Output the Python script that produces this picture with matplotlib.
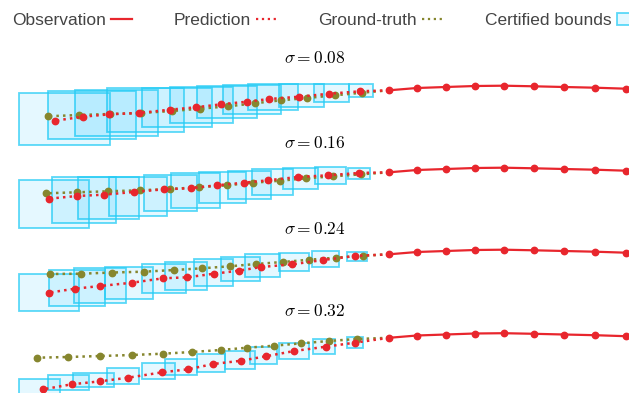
import matplotlib
matplotlib.use("Agg")
import matplotlib.pyplot as plt
from matplotlib.lines import Line2D
from matplotlib.patches import Rectangle, Patch

plt.rcParams['mathtext.fontset'] = 'cm'
plt.rcParams['font.family'] = ['Liberation Sans', 'DejaVu Sans']

sigmas = [0.08, 0.16, 0.24, 0.32]

# observed track (oldest first), shared by every noise level
obs_x = [62.6, 59.5, 56.4, 53.4, 50.4, 47.5, 44.6, 41.7, 38.9]
obs_y = [0.33, 0.43, 0.50, 0.57, 0.63, 0.60, 0.50, 0.40, 0.17]

# predicted future positions, nearest step first
pred_x = [
    [36.0, 32.93, 29.93, 26.93, 24.67, 22.13, 19.57, 16.97, 13.9, 10.93, 8.3, 5.5],
    [35.87, 32.8, 29.8, 26.8, 24.4, 21.67, 19.07, 16.4, 13.37, 10.37, 7.7, 4.87],
    [35.47, 32.33, 29.23, 26.13, 23.87, 21.4, 18.73, 16.3, 13.2, 10.03, 7.5, 4.87],
    [35.47, 32.57, 29.43, 26.57, 24.13, 21.33, 18.8, 16.23, 12.8, 10.03, 7.17, 4.33],
]
pred_y = [
    [0.07, -0.17, -0.47, -0.70, -0.97, -1.23, -1.53, -1.77, -2.10, -2.23, -2.47, -2.87],
    [0.1, -0.13, -0.3, -0.63, -0.87, -1.13, -1.42, -1.53, -1.8, -2.07, -2.2, -2.47],
    [0.0, -0.4, -0.83, -1.1, -1.47, -1.77, -2.13, -2.23, -2.67, -3.0, -3.27, -3.67],
    [-0.32, -0.72, -1.15, -1.68, -2.12, -2.45, -2.98, -3.28, -3.82, -4.18, -4.48, -4.98],
]

# ground-truth future positions
gt_x = [
    [36.2, 33.47, 30.7, 28.1, 25.47, 22.83, 20.0, 17.2, 14.13, 11.0, 7.93, 4.77],
    [36.1, 33.33, 30.6, 28.0, 25.33, 22.7, 19.9, 17.03, 13.97, 10.83, 7.7, 4.57],
    [36.33, 33.6, 30.93, 28.27, 25.6, 22.97, 20.2, 17.4, 14.37, 11.23, 8.13, 5.03],
    [35.7, 32.9, 30.13, 27.43, 24.73, 22.07, 19.2, 16.3, 13.2, 10.03, 6.83, 3.67],
]
gt_y = [
    [-0.07, -0.33, -0.6, -0.83, -1.13, -1.43, -1.67, -1.9, -2.1, -2.2, -2.3, -2.43],
    [-0.03, -0.23, -0.43, -0.67, -0.87, -1.13, -1.32, -1.5, -1.63, -1.73, -1.83, -1.93],
    [0.03, -0.17, -0.37, -0.6, -0.8, -1.03, -1.23, -1.4, -1.57, -1.65, -1.77, -1.8],
    [0.05, -0.15, -0.38, -0.62, -0.82, -1.05, -1.25, -1.42, -1.55, -1.65, -1.75, -1.82],
]

# certified bounds for each predicted step
bound_xlo = [
    [34.93, 31.43, 27.87, 24.83, 22.33, 19.67, 16.97, 14.17, 10.73, 7.53, 4.8, 1.87],
    [34.77, 31.5, 28.33, 25.23, 22.83, 19.93, 17.07, 14.43, 10.87, 7.83, 5.17, 1.9],
    [34.67, 31.17, 27.87, 24.53, 22.1, 19.43, 16.47, 14.17, 10.53, 7.43, 4.93, 1.9],
    [34.67, 31.33, 27.87, 25.0, 22.53, 19.67, 16.53, 14.17, 10.73, 7.33, 4.83, 1.9],
]
bound_xhi = [
    [37.27, 34.93, 32.4, 29.83, 28.13, 25.67, 23.33, 21.17, 18.37, 15.77, 13.57, 11.03],
    [37.0, 34.57, 31.8, 29.27, 27.1, 24.57, 22.0, 19.67, 16.67, 13.87, 11.6, 8.93],
    [36.67, 33.87, 30.93, 28.03, 25.97, 23.33, 20.73, 18.6, 15.33, 12.63, 10.53, 7.87],
    [36.33, 33.5, 30.87, 27.67, 25.47, 22.53, 19.73, 17.47, 13.93, 11.43, 8.87, 6.03],
]
bound_ylo = [
    [-0.53, -0.97, -1.47, -1.83, -2.2, -2.6, -3.1, -3.53, -4.0, -4.37, -4.73, -5.27],
    [-0.53, -1.03, -1.53, -2.1, -2.53, -2.93, -3.43, -3.73, -4.2, -4.53, -4.93, -5.37],
    [-0.53, -1.07, -1.53, -2.07, -2.47, -2.97, -3.4, -3.73, -4.33, -4.73, -5.03, -5.53],
    [-0.85, -1.45, -1.98, -2.48, -2.92, -3.25, -3.58, -3.98, -4.45, -4.72, -5.08, -5.65],
]
bound_yhi = [
    [0.77, 0.77, 0.77, 0.77, 0.7, 0.6, 0.5, 0.37, 0.4, 0.17, 0.13, -0.1],
    [0.57, 0.67, 0.57, 0.47, 0.33, 0.23, 0.07, -0.07, -0.27, -0.33, -0.33, -0.57],
    [0.43, 0.47, 0.27, 0.17, -0.13, -0.33, -0.63, -0.8, -1.13, -1.23, -1.4, -1.77],
    [0.28, 0.05, -0.32, -0.72, -1.12, -1.45, -1.98, -2.32, -2.88, -3.32, -3.58, -3.98],
]

RED = '#e8262d'
OLIVE = '#86862e'
BOX_FACE = (0.0, 0.75, 1.0, 0.10)
BOX_EDGE = (0.15, 0.80, 0.96, 0.75)

W, H = 629, 393
fig = plt.figure(figsize=(W / 100, H / 100), dpi=100)

# panel anchor rows (pixels from top) and title rows
panel_row = [92, 174, 256, 339.5]
title_row = [58, 143, 229, 311]
ylo, yhi = -6.2, 1.2

for k, sig in enumerate(sigmas):
    top = panel_row[k] + yhi * -10
    bottom = panel_row[k] - ylo * 10
    ax = fig.add_axes([0, 1 - bottom / H, 1, (bottom - top) / H])
    ax.set_xlim(0, W / 10)
    ax.set_ylim(ylo, yhi)
    ax.axis('off')

    for x0, x1, y0, y1 in zip(bound_xlo[k], bound_xhi[k], bound_ylo[k], bound_yhi[k]):
        ax.add_patch(Rectangle((x0, y0), x1 - x0, y1 - y0, facecolor=BOX_FACE,
                               edgecolor=BOX_EDGE, linewidth=1.3, zorder=1))

    # future tracks start from the last observed position
    ax.plot([obs_x[-1]] + gt_x[k], [obs_y[-1]] + gt_y[k], linestyle=':', color=OLIVE,
            linewidth=1.8, marker='o', markersize=4.6, markevery=slice(1, None), zorder=2)
    ax.plot([obs_x[-1]] + pred_x[k], [obs_y[-1]] + pred_y[k], linestyle=':', color=RED,
            linewidth=1.8, marker='o', markersize=4.6, markevery=slice(1, None), zorder=3)
    ax.plot(obs_x, obs_y, '-', color=RED, linewidth=1.6, marker='o', markersize=4.6, zorder=4)

    fig.text(0.5, 1 - title_row[k] / H, r'$\sigma = %.2f$' % sig, ha='center', va='center',
             fontsize=12.5)

handles = [
    Line2D([], [], color=RED, linewidth=1.6),
    Line2D([], [], color=RED, linewidth=1.6, linestyle=':'),
    Line2D([], [], color=OLIVE, linewidth=1.6, linestyle=':'),
    Patch(facecolor=(0.0, 0.75, 1.0, 0.10), edgecolor=BOX_EDGE, linewidth=1.3),
]
labels = ['Observation', 'Prediction', 'Ground-truth', 'Certified bounds']
fig.legend(handles, labels, loc='upper left', bbox_to_anchor=(12 / W, 1 - 13 / H), ncol=4,
           frameon=False, markerfirst=False, borderpad=0, borderaxespad=0,
           handlelength=1.2, handletextpad=0.3, columnspacing=2.4, fontsize=12.5,
           labelcolor='#444444')

fig.savefig('out.png', dpi=100)
